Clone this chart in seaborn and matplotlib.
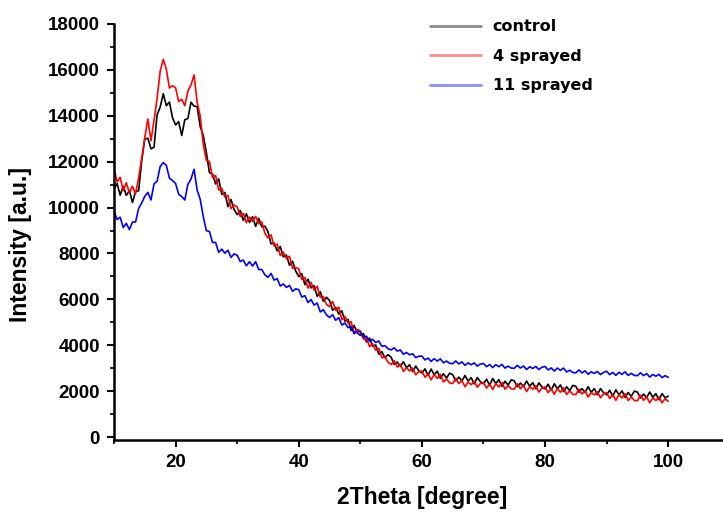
import numpy as np
import pandas as pd
import seaborn as sns
import matplotlib.pyplot as plt
from matplotlib.ticker import MultipleLocator

# 2Theta grid, 0.5 degree steps from 10 to 100
two_theta = np.arange(10, 100.01, 0.5)

# Intensities (one row of 10 values = 5 degrees)
control = [
    10800, 11050, 10540, 10930, 10530, 10740, 10220, 10700, 10730, 12040,
    12990, 13020, 12560, 12630, 14050, 14380, 14960, 14440, 14600, 13920,
    13600, 13750, 13140, 13830, 13880, 14590, 14420, 14400, 13530, 13140,
    12390, 11520, 11460, 11030, 11250, 10580, 10660, 10040, 10350, 9920,
    9690, 9870, 9440, 9730, 9350, 9600, 9180, 9530, 9160, 9190,
    8950, 8420, 8450, 8110, 8300, 7850, 7930, 7490, 7660, 7240,
    6990, 7120, 6640, 6880, 6500, 6600, 6130, 6330, 5910, 6090,
    5950, 5520, 5650, 5360, 5500, 5050, 5130, 4640, 4860, 4540,
    4430, 4510, 4140, 4310, 3960, 4010, 3610, 3720, 3450, 3590,
    3480, 3160, 3270, 3080, 3280, 3020, 3150, 2850, 3090, 2890,
    2790, 2970, 2690, 2960, 2720, 2870, 2560, 2760, 2570, 2780,
    2720, 2450, 2610, 2450, 2680, 2440, 2590, 2320, 2590, 2410,
    2320, 2520, 2260, 2550, 2330, 2500, 2210, 2430, 2260, 2490,
    2450, 2190, 2350, 2200, 2440, 2210, 2370, 2100, 2360, 2180,
    2100, 2300, 2040, 2320, 2100, 2270, 1980, 2190, 2020, 2250,
    2210, 1950, 2110, 1950, 2190, 1950, 2110, 1840, 2110, 1930,
    1840, 2040, 1780, 2060, 1840, 2010, 1720, 1940, 1770, 2000,
    1960, 1700, 1870, 1720, 1960, 1730, 1890, 1620, 1890, 1710,
    1780,
]

sprayed_4 = [
    11720, 11120, 11320, 10740, 11080, 10640, 10930, 10600, 11290, 12150,
    13050, 13860, 12910, 13800, 14760, 15940, 16460, 16030, 15210, 15310,
    15220, 14620, 14720, 14440, 15080, 15340, 15780, 14600, 13990, 12750,
    12050, 12010, 11310, 11400, 10760, 10840, 10460, 10530, 9960, 10110,
    10030, 9610, 9750, 9340, 9590, 9400, 9620, 9290, 9370, 8880,
    8680, 8810, 8330, 8410, 7910, 8060, 7770, 7880, 7350, 7390,
    7330, 6860, 6950, 6490, 6740, 6400, 6570, 6090, 6120, 5780,
    5680, 5910, 5530, 5660, 5110, 5260, 4970, 5030, 4550, 4690,
    4630, 4270, 4320, 3940, 4060, 3780, 3870, 3450, 3500, 3260,
    3160, 3330, 3050, 3170, 2860, 3030, 2880, 3000, 2710, 2850,
    2880, 2600, 2750, 2490, 2730, 2550, 2730, 2400, 2530, 2360,
    2330, 2560, 2330, 2470, 2190, 2390, 2280, 2430, 2170, 2330,
    2380, 2130, 2310, 2070, 2330, 2180, 2380, 2080, 2250, 2100,
    2090, 2320, 2100, 2260, 1980, 2190, 2080, 2230, 1960, 2130,
    2180, 1930, 2100, 1860, 2110, 1950, 2150, 1850, 2010, 1860,
    1850, 2090, 1870, 2020, 1740, 1940, 1830, 1970, 1710, 1880,
    1930, 1680, 1840, 1600, 1850, 1700, 1890, 1590, 1750, 1590,
    1580, 1820, 1600, 1760, 1490, 1700, 1590, 1750, 1490, 1670,
    1560,
]

sprayed_11 = [
    9850, 9480, 9580, 9130, 9310, 9040, 9370, 9370, 9960, 10200,
    10490, 10660, 10330, 11030, 11150, 11790, 11960, 11840, 11280, 11180,
    11050, 10580, 10480, 10330, 11010, 11240, 11670, 10770, 10360, 9600,
    8990, 8960, 8480, 8480, 8050, 8190, 8010, 8140, 7830, 7980,
    7920, 7650, 7710, 7460, 7640, 7450, 7640, 7300, 7300, 7070,
    6960, 7130, 6840, 6900, 6580, 6670, 6520, 6610, 6350, 6460,
    6420, 6100, 6160, 5860, 5990, 5750, 5840, 5450, 5550, 5320,
    5210, 5330, 5090, 5200, 4880, 4970, 4770, 4810, 4500, 4610,
    4575, 4360, 4390, 4185, 4255, 4120, 4185, 3955, 3980, 3850,
    3795, 3890, 3745, 3795, 3605, 3685, 3580, 3630, 3460, 3520,
    3525, 3360, 3440, 3295, 3415, 3310, 3405, 3235, 3310, 3215,
    3195, 3315, 3185, 3275, 3125, 3230, 3150, 3230, 3090, 3180,
    3205, 3065, 3160, 3025, 3155, 3060, 3165, 3005, 3090, 3005,
    2995, 3125, 3005, 3095, 2945, 3060, 2990, 3075, 2940, 3040,
    3075, 2925, 3010, 2875, 3005, 2905, 3005, 2835, 2910, 2815,
    2795, 2920, 2795, 2885, 2735, 2845, 2770, 2855, 2720, 2815,
    2865, 2720, 2815, 2685, 2820, 2730, 2840, 2685, 2775, 2685,
    2675, 2800, 2675, 2765, 2615, 2725, 2650, 2730, 2590, 2675,
    2600,
]

labels = ['control', '4 sprayed', '11 sprayed']
colors = ['#000000', '#ff0000', '#0000ff']

# long form table for seaborn
df = pd.concat([
    pd.DataFrame({'2theta': two_theta, 'intensity': vals, 'sample': lab})
    for vals, lab in zip([control, sprayed_4, sprayed_11], labels)
])

sns.set_style('ticks')
plt.rcParams['font.family'] = ['Liberation Sans', 'DejaVu Sans']
plt.rcParams['text.color'] = 'black'
plt.rcParams['axes.labelcolor'] = 'black'

fig = plt.figure(figsize=(7.23, 5.12), dpi=100)
ax = fig.add_axes([114 / 723, 72 / 512, 609 / 723, 416 / 512])

sns.lineplot(data=df, x='2theta', y='intensity', hue='sample', hue_order=labels,
             palette=colors, estimator=None, sort=False, linewidth=1.2, ax=ax)

ax.set_xlim(10, 108.9)
ax.set_ylim(-130, 18000)
ax.xaxis.set_major_locator(MultipleLocator(20))
ax.xaxis.set_minor_locator(MultipleLocator(10))
ax.yaxis.set_major_locator(MultipleLocator(2000))
ax.yaxis.set_minor_locator(MultipleLocator(1000))

for side in ['top', 'right']:
    ax.spines[side].set_visible(False)
for side in ['left', 'bottom']:
    ax.spines[side].set_linewidth(1.8)
    ax.spines[side].set_color('black')

ax.tick_params(which='major', direction='out', length=5, width=1.5, pad=5,
               labelsize=13.5, colors='black')
ax.tick_params(which='minor', direction='out', length=3, width=1.5)
for lab in ax.get_xticklabels() + ax.get_yticklabels():
    lab.set_fontweight('bold')
# first x label (10) is not shown in the original
ax.set_xticks([20, 40, 60, 80, 100])

ax.set_xlabel('2Theta [degree]', fontsize=16.5, fontweight='bold')
ax.set_ylabel('Intensity [a.u.]', fontsize=16.5, fontweight='bold')
ax.xaxis.set_label_coords(0.506, -0.11)
ax.yaxis.set_label_coords(-0.135, 0.47)

leg = ax.legend(loc='upper left', bbox_to_anchor=(416 / 723, 1 - 5 / 512),
                bbox_transform=fig.transFigure, frameon=False,
                handlelength=3.2, handletextpad=0.7, labelspacing=0.9,
                prop={'family': 'DejaVu Sans', 'weight': 'bold', 'size': 11.5})
for h in leg.get_lines():
    h.set_alpha(0.45)
    h.set_linewidth(2)
for t in leg.get_texts():
    t.set_color('black')

fig.savefig('out.png', dpi=100)
